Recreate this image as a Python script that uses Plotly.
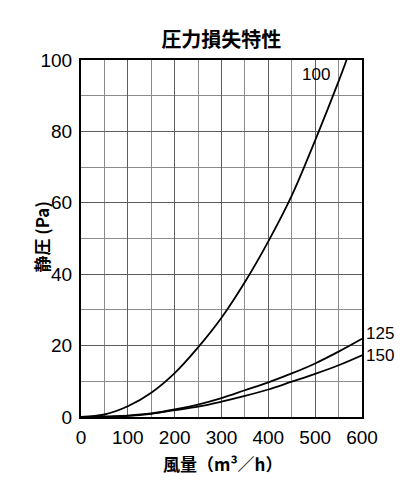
import plotly.graph_objects as go

# 風量 (m3/h) と 静圧 (Pa) — 図から読み取った値
airflow = [0, 50, 100, 150, 200, 250, 300, 350, 400, 450, 500, 550, 600]
pressure_125 = [0, 0.1, 0.4, 1.0, 2.1, 3.5, 5.3, 7.5, 9.7, 12.2, 15.0, 18.3, 21.9]
pressure_150 = [0, 0.1, 0.3, 0.9, 1.9, 2.9, 4.3, 5.9, 7.7, 9.9, 12.1, 14.5, 17.3]
airflow_100 = [0, 50, 100, 150, 200, 250, 300, 350, 400, 450, 500, 550, 567]
pressure_100 = [0, 0.7, 3.0, 6.8, 12.3, 19.5, 27.8, 37.8, 49.2, 62.0, 77.5, 94.0, 100.0]

curve_labels = ["100", "125", "150"]

FONT = "Liberation Sans, Arial, Noto Sans CJK JP"
JP_FONT = "Noto Sans CJK JP"

fig = go.Figure()
for xs, ys in [(airflow_100, pressure_100), (airflow, pressure_125), (airflow, pressure_150)]:
    fig.add_trace(go.Scatter(
        x=xs, y=ys, mode="lines",
        line=dict(color="black", width=1.8, shape="spline", smoothing=1.0),
        showlegend=False, hoverinfo="skip",
    ))

# curve labels
fig.add_annotation(x=502, y=95.8, text=curve_labels[0], showarrow=False,
                   font=dict(size=17, color="black", family=FONT))
fig.add_annotation(x=1, xref="paper", y=23.3, text=curve_labels[1], showarrow=False,
                   xanchor="left", xshift=2, font=dict(size=17, color="black", family=FONT))
fig.add_annotation(x=1, xref="paper", y=17.2, text=curve_labels[2], showarrow=False,
                   xanchor="left", xshift=2, font=dict(size=17, color="black", family=FONT))

# axis titles
fig.add_annotation(x=0, xref="paper", y=0.504, yref="paper", text="静圧 (Pa)",
                   showarrow=False, textangle=-90, xshift=-54,
                   font=dict(size=17, color="black", family=JP_FONT, weight="bold"))
fig.add_annotation(x=0.502, xref="paper", y=0, yref="paper", text="風量（m³／h）",
                   showarrow=False, yanchor="middle", yshift=-46,
                   font=dict(size=17, color="black", family=JP_FONT, weight="bold"))

# the page puts the figure 8px in from the top-left corner, so size it to fit
fig.update_layout(
    width=408, height=477,
    margin=dict(l=73, r=54, t=52, b=68),
    paper_bgcolor="white", plot_bgcolor="white",
    title=dict(text="圧力損失特性", x=0.523, xanchor="center", y=1 - 32 / 477, yanchor="middle",
               font=dict(size=20, color="black", family=JP_FONT, weight="bold")),
    font=dict(family=FONT, color="black"),
)
fig.update_xaxes(
    range=[0, 600], tickvals=[0, 100, 200, 300, 400, 500, 600],
    tickfont=dict(size=19), ticks="", ticklabelstandoff=2, automargin=False,
    showgrid=True, gridcolor="#5e5e5e", gridwidth=1,
    minor=dict(dtick=50, showgrid=True, gridcolor="#8c8c8c", gridwidth=1),
    showline=True, linecolor="black", linewidth=2, mirror=True, zeroline=False,
)
fig.update_yaxes(
    range=[0, 100], tickvals=[0, 20, 40, 60, 80, 100],
    tickfont=dict(size=19), ticks="", ticklabelstandoff=3, automargin=False,
    showgrid=True, gridcolor="#5e5e5e", gridwidth=1,
    minor=dict(dtick=10, showgrid=True, gridcolor="#8c8c8c", gridwidth=1),
    showline=True, linecolor="black", linewidth=2, mirror=True, zeroline=False,
)

fig.write_html("out.html")
